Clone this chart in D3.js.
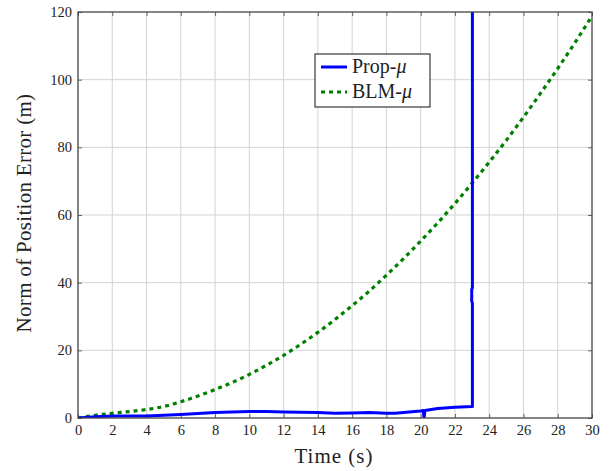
<!DOCTYPE html>
<html><head><meta charset="utf-8">
<script src="https://cdn.jsdelivr.net/npm/d3@7"></script>
<style>body{margin:0;background:#fff}svg{display:block}</style>
</head><body>
<script>
const xTicks = [0,2,4,6,8,10,12,14,16,18,20,22,24,26,28,30];
const yTicks = [0,20,40,60,80,100,120];
const propT = [0,1,2,3,4,5,6,7,8,9,10,11,12,13,14,15,16,17,18,18.5,19,20,20.15,20.2,20.25,21,22,22.98,23.02,23.02,22.98,22.98,23.02,23.02];
const propV = [0,0.4,0.6,0.6,0.6,0.8,1.0,1.3,1.6,1.8,1.9,1.9,1.8,1.7,1.6,1.4,1.5,1.6,1.4,1.4,1.6,2.1,2.2,0,2.2,2.8,3.2,3.4,3.4,34,34.5,38,38.5,130];
const blmT = [0,1,2,3,4,5,6,7,8,9,10,11,12,13,14,15,16,17,18,19,20,21,22,23,24,25,26,27,28,29,30];
const blmV = [0,0.8,1.4,1.9,2.5,3.4,4.8,6.5,8.4,10.5,12.9,15.6,18.5,21.8,25.3,29.1,33.2,37.5,42.2,47.1,52.3,57.7,63.4,69.4,75.6,82.1,88.9,96,103.3,110.9,118.8];

const W=610,H=471, L=78,R=592,T=12,B=418;
const FF="'Liberation Serif','DejaVu Serif',serif";
const svg=d3.select("body").append("svg").attr("width",W).attr("height",H);
const x=d3.scaleLinear().domain([0,30]).range([L,R]);
const y=d3.scaleLinear().domain([0,120]).range([B,T]);
svg.append("defs").append("clipPath").attr("id","c").append("rect").attr("x",L).attr("y",T).attr("width",R-L).attr("height",B-T);

// grid
svg.append("g").selectAll("line").data(xTicks.slice(1,-1)).join("line")
 .attr("x1",d=>x(d)).attr("x2",d=>x(d)).attr("y1",T).attr("y2",B).attr("stroke","#d3d3d3").attr("stroke-width",1);
svg.append("g").selectAll("line").data(yTicks.slice(1,-1)).join("line")
 .attr("y1",d=>y(d)).attr("y2",d=>y(d)).attr("x1",L).attr("x2",R).attr("stroke","#d3d3d3").attr("stroke-width",1);

// axes with inward ticks
const ax=svg.append("g").attr("transform",`translate(0,${B})`).call(d3.axisBottom(x).tickValues(xTicks).tickSizeInner(-4).tickSizeOuter(0).tickPadding(7));
const ay=svg.append("g").attr("transform",`translate(${L},0)`).call(d3.axisLeft(y).tickValues(yTicks).tickSizeInner(-4).tickSizeOuter(0).tickPadding(6));
const axT=svg.append("g").attr("transform",`translate(0,${T})`).call(d3.axisTop(x).tickValues(xTicks).tickSizeInner(-4).tickSizeOuter(0).tickFormat(""));
const ayR=svg.append("g").attr("transform",`translate(${R},0)`).call(d3.axisRight(y).tickValues(yTicks).tickSizeInner(-4).tickSizeOuter(0).tickFormat(""));
[ax,ay,axT,ayR].forEach(g=>{g.attr("font-family",null).attr("font-size",null);g.select(".domain").remove();g.selectAll("line").attr("stroke","#666");g.selectAll("text").style("font-family",FF).style("font-size","14.5px").attr("fill","#222");});

// lines
const g=svg.append("g").attr("clip-path","url(#c)");
g.append("path").datum(blmT.map((t,i)=>[t,blmV[i]])).attr("d",d3.line().x(d=>x(d[0])).y(d=>y(d[1])).curve(d3.curveMonotoneX))
 .attr("fill","none").attr("stroke","#008000").attr("stroke-width",3.2).attr("stroke-dasharray","4,4");
g.append("path").datum(propT.map((t,i)=>[t,propV[i]])).attr("d",d3.line().x(d=>x(d[0])).y(d=>y(d[1])))
 .attr("fill","none").attr("stroke","#0000ff").attr("stroke-width",3).attr("stroke-linejoin","round");

// frame
svg.append("rect").attr("x",L).attr("y",T).attr("width",R-L).attr("height",B-T).attr("fill","none").attr("stroke","#444").attr("stroke-width",1.3);

// labels
svg.append("text").attr("x",334).attr("y",463).attr("text-anchor","middle").style("font-family",FF).style("font-size","21px").style("letter-spacing","1px").attr("fill","#222").text("Time (s)");
svg.append("text").attr("transform",`translate(31,213) rotate(-90)`).attr("text-anchor","middle").style("font-family",FF).style("font-size","21px").style("letter-spacing","0.3px").attr("fill","#222").text("Norm of Position Error (m)");

// legend
const lg=svg.append("g");
lg.append("rect").attr("x",315).attr("y",54).attr("width",115).attr("height",53).attr("fill","#fff").attr("stroke","#111").attr("stroke-width",1);
const items=[{n:"Prop-",c:"#0000ff",d:null},{n:"BLM-",c:"#008000",d:"4,4"}];
items.forEach((it,i)=>{
  const yy=67+i*25;
  lg.append("line").attr("x1",321).attr("x2",347).attr("y1",yy).attr("y2",yy).attr("stroke",it.c).attr("stroke-width",3).attr("stroke-dasharray",it.d);
  const t=lg.append("text").attr("x",352).attr("y",yy+6).style("font-family",FF).style("font-size","20px").attr("fill","#222").text(it.n);
  t.append("tspan").attr("font-style","italic").text("μ");
});
</script>
</body></html>
